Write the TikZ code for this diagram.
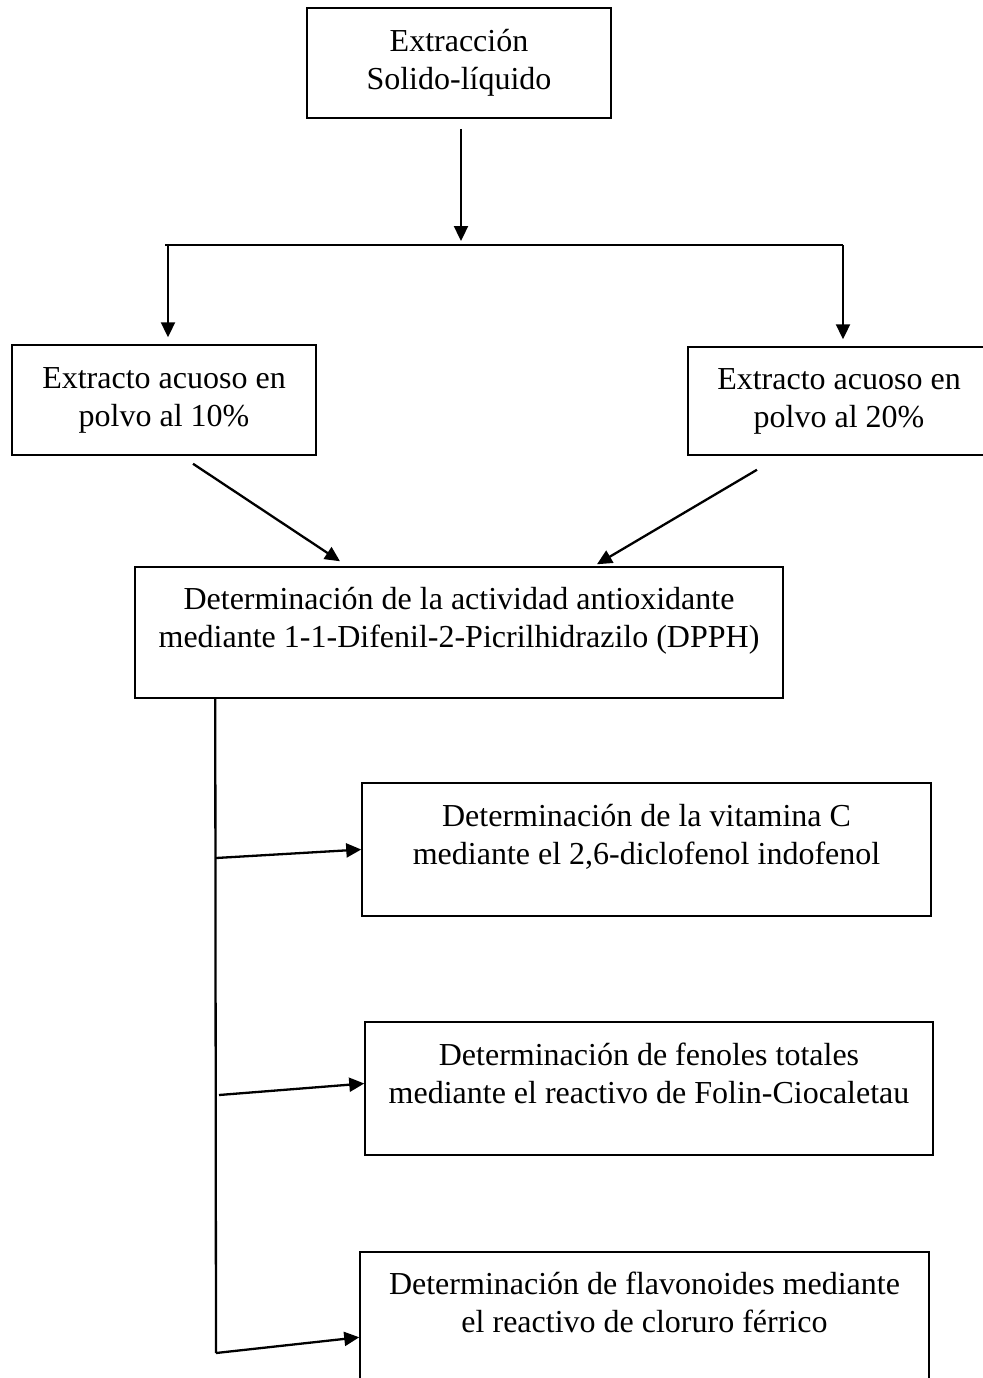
\documentclass[tikz,border=0pt]{standalone}
\usepackage{fontspec}
\setmainfont{Liberation Serif}
\usetikzlibrary{arrows.meta,positioning,calc}
\tikzstyle{box} = [draw, line width=0.75pt, align=center, inner sep=0pt, font=\fontsize{16}{19}\selectfont]
\tikzstyle{arrow} = [draw, line width=1.15pt, -{Triangle[length=7.5pt,width=7pt]}]
\tikzstyle{line} = [draw, line width=1.15pt]
\newcommand{\stepbox}[5]{node (#1) [box, minimum width=#2pt, minimum height=#3pt] {#4\\#5}}

\begin{document}
\begin{tikzpicture}[x=0.5pt,y=-0.5pt]
\useasboundingbox (0,0) rectangle (983,1378);
\path (459,63) \stepbox{extr}{152}{55}{Extracción}{Solido-líquido};
\path (164,400) \stepbox{ext10}{152}{55}{Extracto acuoso en}{polvo al 10\%};
\path (839,401) \stepbox{ext20}{151}{54}{Extracto acuoso en}{polvo al 20\%};
\path (459,632.5) \stepbox{dpph}{324}{65.5}{Determinación de la actividad antioxidante}{mediante 1-1-Difenil-2-Picrilhidrazilo (DPPH)\\[-10pt]\strut};
\path (646.5,849.5) \stepbox{vitc}{284.5}{66.5}{Determinación de la vitamina C}{mediante el 2,6-diclofenol indofenol\\[-10pt]\strut};
\path (649,1088.5) \stepbox{fenol}{284}{66.5}{Determinación de fenoles totales}{mediante el reactivo de Folin-Ciocaletau\\[-9pt]\strut};
\path (644.5,1322) \stepbox{flavo}{284.5}{70}{Determinación de flavonoides mediante}{el reactivo de cloruro férrico\\[-5pt]\strut};

% reparto de la extraccion
\coordinate (splitL) at (165,245);
\coordinate (splitM) at (461,245);
\coordinate (splitR) at (843,245);
\path [arrow] ($(extr.south)+(2,10)$) -- ($(splitM)+(0,-4)$);
\path [line] (splitL) -- (splitR);
\path [arrow] ($(splitL)+(3,0)$) -- ($(ext10.north)+(4,-7)$);
\path [arrow] (splitR) -- ($(ext20.north)+(4,-7)$);

\path [arrow] ($(ext10.south)+(29,8)$) -- ($(dpph.north)+(-119,-5)$);
\path [arrow] ($(ext20.south)+(-82,14)$) -- ($(dpph.north)+(138,-2)$);

% ensayos
\coordinate (b1) at (216,858);
\coordinate (b2) at (219,1095);
\coordinate (b3) at (216,1353);
\path [line] ($(dpph.south west)+(81,0)$) -- (b3);
\path [arrow] (b1) -- (vitc.west);
\path [arrow] (b2) -- ($(fenol.west)+(0,-5)$);
\path [arrow] (b3) -- ($(flavo.north west)+(0,86)$);
\end{tikzpicture}
\end{document}
